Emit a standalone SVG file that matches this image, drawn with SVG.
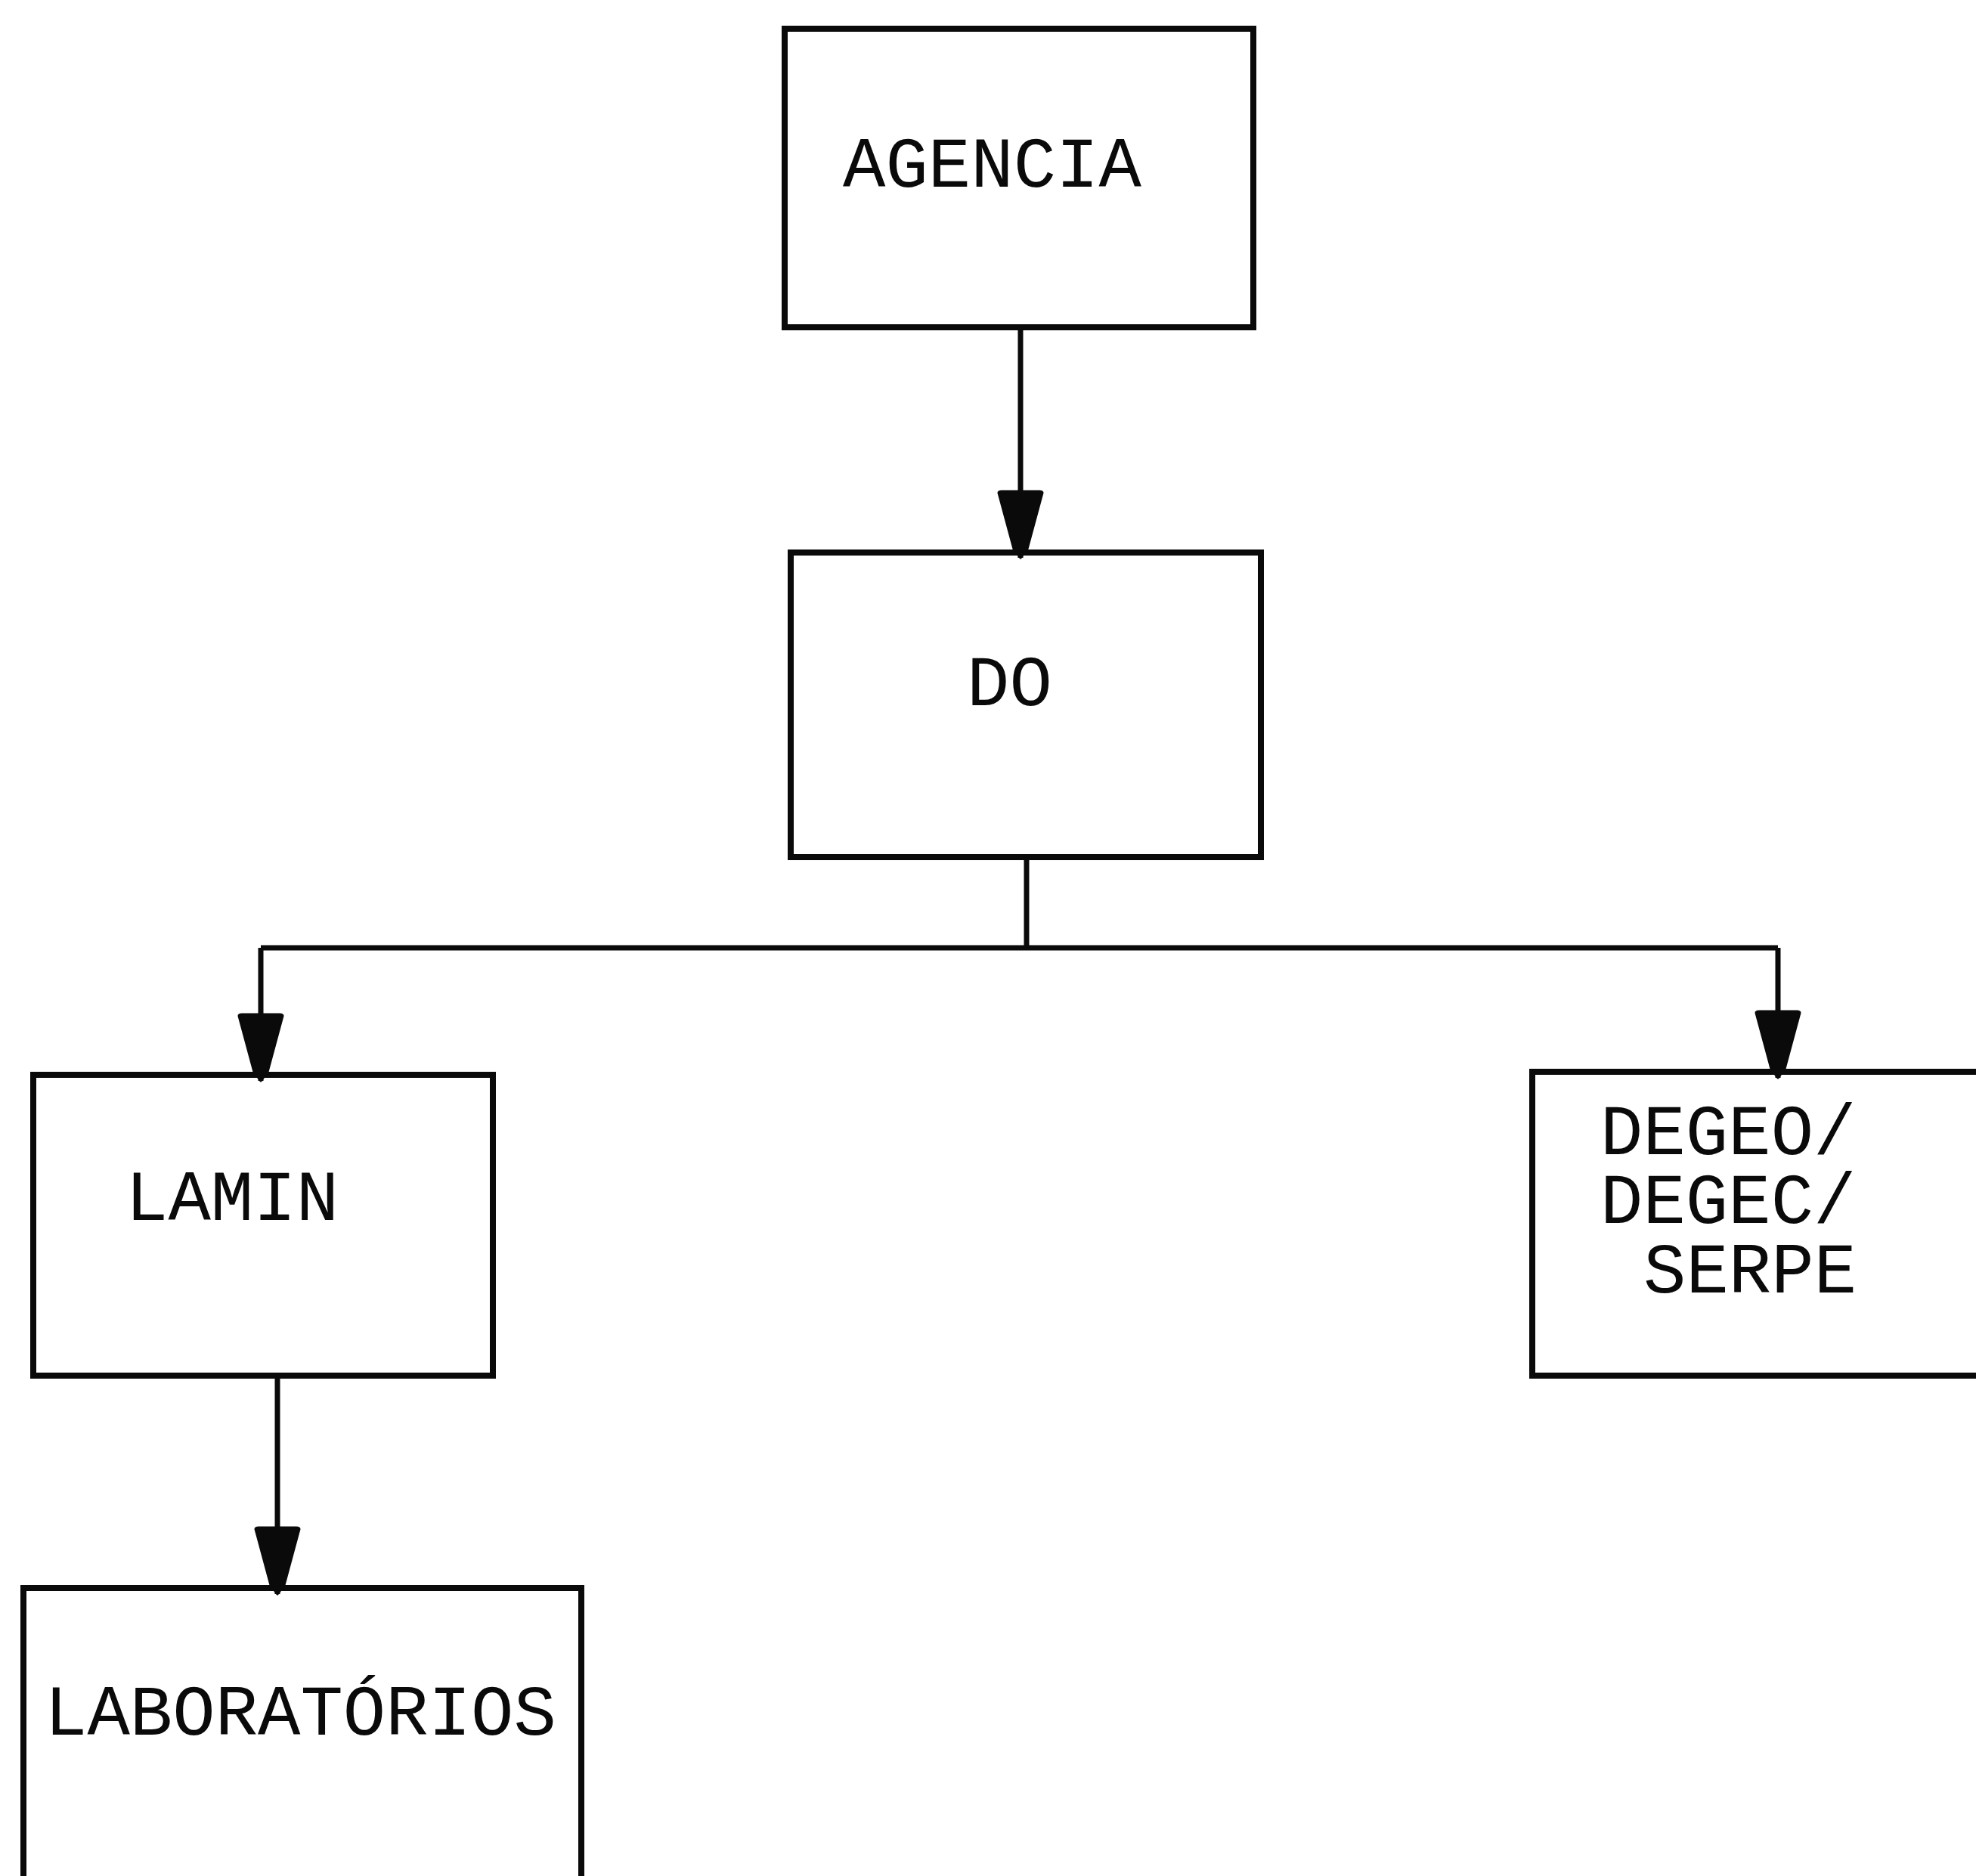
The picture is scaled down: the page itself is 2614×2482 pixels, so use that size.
<svg xmlns="http://www.w3.org/2000/svg" width="2614" height="2482" viewBox="0 0 2614 2482">
  <style>
    .box { fill: none; stroke: #0a0a0a; stroke-width: 8; stroke-linejoin: miter; }
    .lbl { font-family: "Liberation Mono", "DejaVu Sans Mono", monospace; font-size: 94px; fill: #0a0a0a; }
    .conn { fill: none; stroke: #0a0a0a; stroke-width: 7; stroke-linecap: butt; }
  </style>
  <defs>
    <marker id="arrow" markerUnits="userSpaceOnUse" markerWidth="92" markerHeight="66" viewBox="0 0 92 66" refX="90" refY="33" orient="auto">
      <path d="M4 4 Q2 4 2 8 L2 58 Q2 62 4 62 L78 42 L90 33 L78 24 Z" fill="#0a0a0a" stroke="#0a0a0a" stroke-width="3" stroke-linejoin="round"/>
    </marker>
  </defs>
  <rect width="2614" height="2482" fill="#ffffff"/>

  <g id="connectors">
    <path class="conn" d="M1350 433 V738" marker-end="url(#arrow)"/>
    <path class="conn" d="M1358 1134 V1254"/>
    <path class="conn" d="M345 1254 H2352"/>
    <path class="conn" d="M345 1254 V1430" marker-end="url(#arrow)"/>
    <path class="conn" d="M2352 1254 V1426" marker-end="url(#arrow)"/>
    <path class="conn" d="M367 1820 V2109" marker-end="url(#arrow)"/>
  </g>

  <g id="node-agencia">
    <rect class="box" x="1038" y="38" width="620" height="395"/>
    <text class="lbl" x="1115" y="247">AGENCIA</text>
  </g>

  <g id="node-do">
    <rect class="box" x="1046" y="731" width="622" height="403"/>
    <text class="lbl" x="1279" y="933">DO</text>
  </g>

  <g id="node-lamin">
    <rect class="box" x="44" y="1422" width="608" height="398"/>
    <text class="lbl" x="166" y="1614">LAMIN</text>
  </g>

  <g id="node-degeo">
    <rect class="box" x="2027" y="1418" width="700" height="402"/>
    <text class="lbl" x="2117" y="1527"><tspan x="2117" y="1527">DEGEO/</tspan><tspan x="2117" y="1618">DEGEC/</tspan><tspan x="2174" y="1710">SERPE</tspan></text>
  </g>

  <g id="node-laboratorios">
    <rect class="box" x="31" y="2101" width="738" height="500"/>
    <text class="lbl" x="59" y="2295">LABORATÓRIOS</text>
  </g>
</svg>
